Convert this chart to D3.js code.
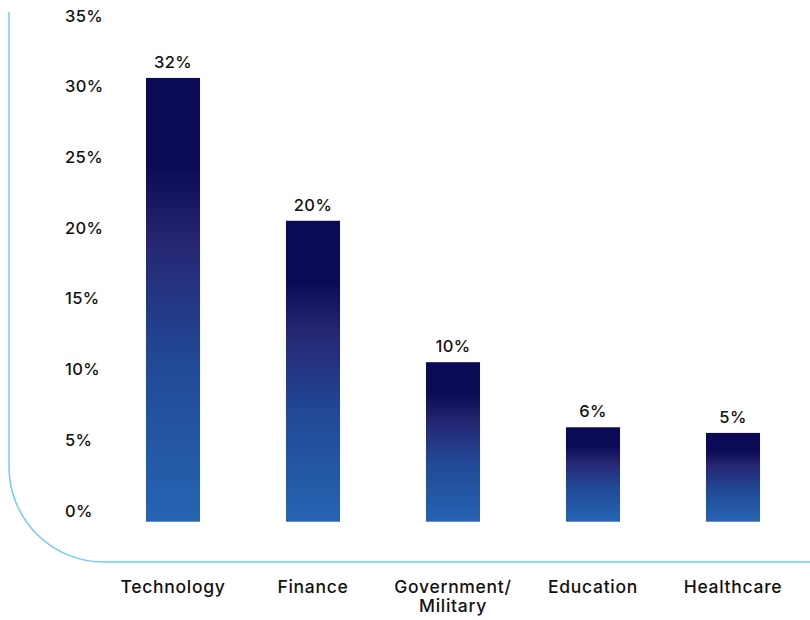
<!DOCTYPE html>
<html>
<head>
<meta charset="utf-8">
<script src="https://cdn.jsdelivr.net/npm/d3@7"></script>
<style>
  body { margin: 0; background: #fff; }
  svg { display: block; font-family: "Inter", "DejaVu Sans", sans-serif; font-weight: 500; }
</style>
</head>
<body>
<div class="chart"></div>
<script>
// data
const categories = ["Technology", "Finance", "Government/\nMilitary", "Education", "Healthcare"];
const barValues = [30.6, 20.5, 10.5, 5.9, 5.5];
const valueLabels = ["32%", "20%", "10%", "6%", "5%"];
const yTicks = [0, 5, 10, 15, 20, 25, 30, 35];

const width = 810;
const height = 620;

const svg = d3.select(".chart")
    .append("svg")
    .attr("width", width)
    .attr("height", height);

// gradient for bars
const grad = svg.append("defs").append("linearGradient")
    .attr("id", "barGrad")
    .attr("x1", 0).attr("y1", 0).attr("x2", 0).attr("y2", 1);
[[0, "#0b0a56"], [0.2, "#0b0a56"], [0.37, "#262673"], [0.65, "#214a98"], [1, "#2664b2"]]
    .forEach(s => grad.append("stop").attr("offset", s[0]).attr("stop-color", s[1]));

// frame line with rounded corner
const r = 95;
svg.append("path")
    .attr("d", `M9,12 V${562 - r} A${r},${r} 0 0 0 ${9 + r},562 H${width}`)
    .attr("fill", "none")
    .attr("stroke", "#6dcff3")
    .attr("stroke-width", 1.5);

const x = d3.scaleBand()
    .domain(categories)
    .range([103, 803])
    .paddingInner(0.614)
    .paddingOuter(0.307);

const y = d3.scaleLinear()
    .domain([0, 35])
    .range([510.7, 15.7]);

const baseDrop = 11; // bars extend a little under the 0% line

// y tick labels
svg.append("g")
    .selectAll("text")
    .data(yTicks)
    .join("text")
    .attr("x", 65)
    .attr("y", d => y(d))
    .attr("dy", "0.36em")
    .attr("font-size", 16.5)
    .attr("letter-spacing", 0.4)
    .attr("fill", "#111")
    .text(d => d + "%");

// bars
svg.selectAll(".bar")
    .data(barValues)
    .join("rect")
    .attr("class", "bar")
    .attr("x", (d, i) => x(categories[i]))
    .attr("y", d => y(d))
    .attr("width", x.bandwidth())
    .attr("height", d => y(0) + baseDrop - y(d))
    .attr("fill", "url(#barGrad)");

// value labels
svg.selectAll(".val")
    .data(barValues)
    .join("text")
    .attr("class", "val")
    .attr("x", (d, i) => x(categories[i]) + x.bandwidth() / 2)
    .attr("y", d => y(d) - 10)
    .attr("text-anchor", "middle")
    .attr("font-size", 16.5)
    .attr("letter-spacing", 0.4)
    .attr("fill", "#111")
    .text((d, i) => valueLabels[i]);

// category labels
const cat = svg.selectAll(".cat")
    .data(categories)
    .join("text")
    .attr("class", "cat")
    .attr("text-anchor", "middle")
    .attr("font-size", 17.5)
    .attr("letter-spacing", 0.7)
    .attr("fill", "#111");

cat.each(function(d) {
    const t = d3.select(this);
    const cx = x(d) + x.bandwidth() / 2;
    d.split("\n").forEach((line, k) => {
        t.append("tspan")
            .attr("x", cx)
            .attr("y", 593 + k * 19)
            .text(line);
    });
});
</script>
</body>
</html>
